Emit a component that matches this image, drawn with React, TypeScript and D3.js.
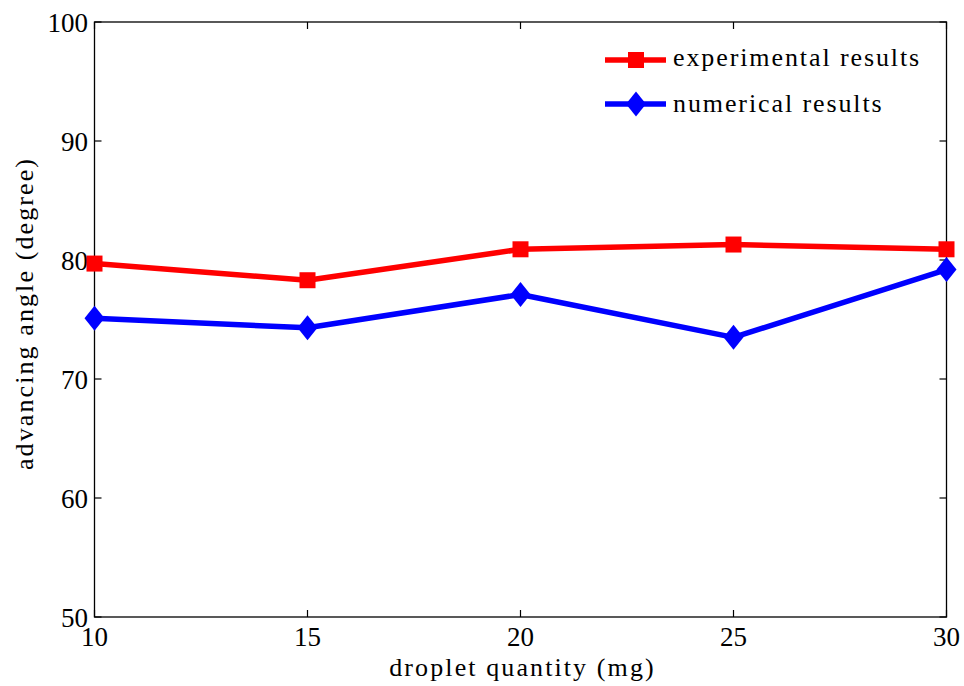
import React from "react";
import * as d3 from "d3";

const quantities = [10, 15, 20, 25, 30];
const experimental = [79.7, 78.3, 80.9, 81.3, 80.9];
const numerical = [75.1, 74.3, 77.1, 73.5, 79.2];
const xTicks = [10, 15, 20, 25, 30];
const yTicks = [50, 60, 70, 80, 90, 100];

const W = 964, H = 686;
const L = 94.5, R = 946.5, T = 22, B = 617;
const FONT = "'Liberation Serif', 'Times New Roman', serif";

export default function App() {
  const x = d3.scaleLinear().domain([10, 30]).range([L, R]);
  const y = d3.scaleLinear().domain([50, 100]).range([B, T]);
  const line = d3.line<number>().x((_, i) => x(quantities[i])).y((d) => y(d));
  const tk = 7;
  const diamond = (cx: number, cy: number, w = 10, h = 12.5) =>
    `M${cx},${cy - h}L${cx + w},${cy}L${cx},${cy + h}L${cx - w},${cy}Z`;
  return (
    <svg width={W} height={H} style={{ position: "absolute", left: 0, top: 0, background: "#fff" }}>
      <rect x={0} y={0} width={W} height={H} fill="#fff" />
      <rect x={L} y={T} width={R - L} height={B - T} fill="none" stroke="#000" strokeWidth={1.3} />
      {xTicks.map((t) => (
        <g key={"x" + t}>
          <line x1={x(t)} x2={x(t)} y1={B} y2={B - tk} stroke="#000" strokeWidth={1.2} />
          <line x1={x(t)} x2={x(t)} y1={T} y2={T + tk} stroke="#000" strokeWidth={1.2} />
          <text x={x(t)} y={646} fontSize={27} textAnchor="middle" fontFamily={FONT}>{t}</text>
        </g>
      ))}
      {yTicks.map((t) => (
        <g key={"y" + t}>
          <line x1={L} x2={L + tk} y1={y(t)} y2={y(t)} stroke="#000" strokeWidth={1.2} />
          <line x1={R} x2={R - tk} y1={y(t)} y2={y(t)} stroke="#000" strokeWidth={1.2} />
          <text x={L - 6.5} y={y(t) + 9.5} fontSize={27} textAnchor="end" fontFamily={FONT}>{t}</text>
        </g>
      ))}
      <text x={(L + R) / 2 + 2} y={676} fontSize={26} letterSpacing={2.1} textAnchor="middle" fontFamily={FONT}>droplet quantity (mg)</text>
      <text transform={`translate(33,${(T + B) / 2 - 6}) rotate(-90)`} fontSize={26} letterSpacing={2.1} textAnchor="middle" fontFamily={FONT}>advancing angle (degree)</text>

      <path d={line(experimental) || ""} fill="none" stroke="#ff0000" strokeWidth={5.5} strokeLinejoin="round" />
      {experimental.map((v, i) => (
        <rect key={"e" + i} x={x(quantities[i]) - 8} y={y(v) - 8} width={16} height={16} fill="#ff0000" />
      ))}
      <path d={line(numerical) || ""} fill="none" stroke="#0000ff" strokeWidth={5.5} strokeLinejoin="round" />
      {numerical.map((v, i) => (
        <path key={"n" + i} d={diamond(x(quantities[i]), y(v))} fill="#0000ff" />
      ))}

      <line x1={605} x2={666} y1={60} y2={60} stroke="#ff0000" strokeWidth={5.5} />
      <rect x={636 - 8} y={60 - 8} width={16} height={16} fill="#ff0000" />
      <text x={673} y={66} fontSize={26} letterSpacing={1.9} fontFamily={FONT}>experimental results</text>
      <line x1={605} x2={666} y1={104} y2={104} stroke="#0000ff" strokeWidth={5.5} />
      <path d={diamond(636, 104)} fill="#0000ff" />
      <text x={673} y={112} fontSize={26} letterSpacing={1.9} fontFamily={FONT}>numerical results</text>
    </svg>
  );
}
